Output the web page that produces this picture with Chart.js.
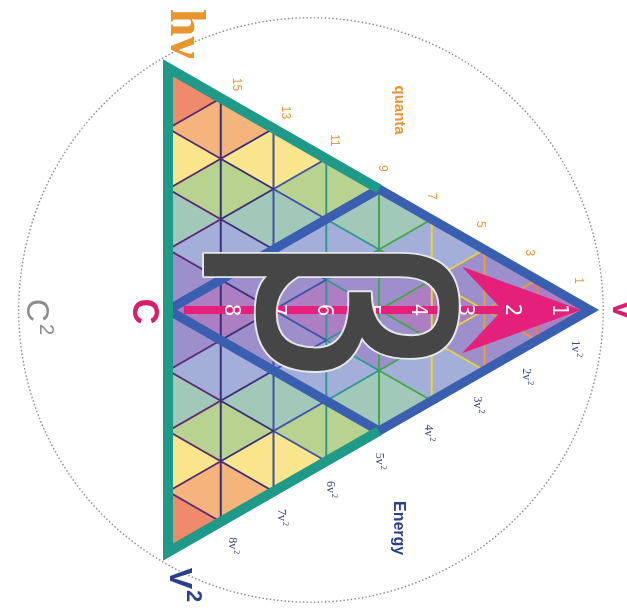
<!DOCTYPE html>
<html>
<head>
<meta charset="utf-8">
<script src="https://cdn.jsdelivr.net/npm/chart.js@4.4.0/dist/chart.umd.min.js"></script>
<style>
html,body{margin:0;padding:0;background:#ffffff;}
#wrap{width:627px;height:608px;position:relative;}
</style>
</head>
<body>
<div id="wrap"><canvas id="c"></canvas></div>
<script>
// ---- data -------------------------------------------------------------
const N = 8;                                   // rows of the triangular lattice (tip V to edge C)
const bandColors = ['#ad7fc2','#9d8fcb','#a4afd9','#a2c8b9','#b7d38f','#f9e68c','#f5b47c','#ef8a6b']; // by |row from axis|
const lineColors = ['#5a2a72','#3b2f7a','#3f52a8','#2f9a8e','#45a848','#e8d43a','#ef9c36','#ef7f3c']; // by column
const axisNumbers = ['1','2','3','4','5','6','7','8'];
const quantaNumbers = ['1','3','5','7','9','11','13','15'];
const energyMultiples = ['1','2','3','4','5','6','7','8'];
const arrowXs = [0.3, 5.6, 6.35, 7.8];        // tail, barbs, notch, tip
const arrowSpread = 1.4;
const circleCenterX = 2.71;
const circleRadius = 5.54;

// ---- geometry built from the lattice ------------------------------------
const pt = (x, y) => ({x, y});
const datasets = [];

// cells (small triangles)
for (let c = 0; c < N; c++) {
  const h = N - c;
  for (let y = -(h - 1); y <= h - 1; y += 2) {
    const col = bandColors[Math.abs(y)];
    datasets.push({data:[pt(c,y+1),pt(c,y-1),pt(c+1,y),pt(c,y+1)], showLine:true, fill:'shape',
      backgroundColor:col, borderColor:col, borderWidth:1, pointRadius:0, order:100});
  }
  for (let y = -(h - 2); y <= h - 2; y += 2) {
    const col = bandColors[Math.abs(y)];
    datasets.push({data:[pt(c,y),pt(c+1,y+1),pt(c+1,y-1),pt(c,y)], showLine:true, fill:'shape',
      backgroundColor:col, borderColor:col, borderWidth:1, pointRadius:0, order:100});
  }
}

// lattice lines, grouped by column colour
const latticeSets = lineColors.map(() => []);
for (let c = 0; c < N; c++) {
  const h = N - c;
  if (c > 0) latticeSets[c].push(pt(c,-h), pt(c,h), pt(c,null));
  for (let y = -h; y <= h; y += 2) {
    if (Math.abs(y + 1) <= h - 1) latticeSets[c].push(pt(c,y), pt(c+1,y+1), pt(c+1,null));
    if (Math.abs(y - 1) <= h - 1) latticeSets[c].push(pt(c,y), pt(c+1,y-1), pt(c+1,null));
  }
}
latticeSets.forEach((d, i) => datasets.push({data:d, showLine:true, fill:false, spanGaps:false,
  borderColor:lineColors[i], borderWidth:2, pointRadius:0, order:50}));

// rhombus (blue) and outer frame (teal)
const H = N / 2;
datasets.push({data:[pt(0,0),pt(H,H),pt(N,0),pt(H,-H),pt(0,0)], showLine:true, fill:false,
  borderColor:'#3a5fb0', borderWidth:9, borderJoinStyle:'miter', pointRadius:0, order:21});
datasets.push({data:[pt(H,H),pt(0,N),pt(0,-N),pt(H,-H)], showLine:true, fill:false,
  borderColor:'#1f9a89', borderWidth:10, borderJoinStyle:'miter', pointRadius:0, order:20});

// magenta arrow
datasets.push({data:[pt(arrowXs[0],0),pt(arrowXs[3]-0.3,0)], showLine:true, fill:false,
  borderColor:'#e5207a', borderWidth:8, pointRadius:0, order:11});
datasets.push({data:[pt(arrowXs[3],0),pt(arrowXs[1],arrowSpread),pt(arrowXs[2],0),pt(arrowXs[1],-arrowSpread),pt(arrowXs[3],0)],
  showLine:true, fill:'shape', backgroundColor:'#e5207a', borderColor:'#e5207a', borderWidth:1, pointRadius:0, order:10});

// ---- text helpers -------------------------------------------------------
function label(ctx, px, py, base, sup, o) {
  ctx.save();
  ctx.translate(px, py);
  ctx.rotate(Math.PI / 2);
  ctx.fillStyle = o.color;
  ctx.textBaseline = o.baseline || 'middle';
  ctx.textAlign = 'left';
  ctx.font = o.font;
  const wb = ctx.measureText(base).width;
  let ws = 0;
  if (sup) { ctx.font = o.supFont; ws = ctx.measureText(sup).width + (o.gap || 0); }
  const x0 = -(wb + ws) / 2;
  ctx.font = o.font;
  ctx.fillText(base, x0, 0);
  if (sup) { ctx.font = o.supFont; ctx.fillText(sup, x0 + wb + (o.gap || 0), -o.raise); }
  ctx.restore();
}

const decor = {
  id: 'decor',
  beforeDatasetsDraw(chart) {
    const {ctx, scales:{x, y}} = chart;
    const cx = x.getPixelForValue(circleCenterX), cy = y.getPixelForValue(0);
    const r = x.getPixelForValue(circleCenterX + circleRadius) - cx;
    ctx.save();
    ctx.strokeStyle = '#8a8a8a';
    ctx.lineWidth = 1.6;
    ctx.lineCap = 'round';
    ctx.setLineDash([0.1, 3.6]);
    ctx.beginPath(); ctx.arc(cx, cy, r, 0, Math.PI * 2); ctx.stroke();
    ctx.restore();
  },
  afterDatasetsDraw(chart) {
    const {ctx, scales:{x, y}} = chart;
    const P = (a, b) => [x.getPixelForValue(a), y.getPixelForValue(b)];

    // numbers on the arrow shaft
    axisNumbers.forEach((t, i) => {
      const [px, py] = P(8.3 - 0.89 * (i + 1), 0);
      label(ctx, px, py, t, null, {font:'22px "DejaVu Sans Condensed","DejaVu Sans"', color:'#ffffff'});
    });

    // big beta
    ctx.save();
    ctx.font = '200px "DejaVu Sans"';
    const m = ctx.measureText('β');
    const L = m.actualBoundingBoxLeft, R = m.actualBoundingBoxRight;
    const A = m.actualBoundingBoxAscent, D = m.actualBoundingBoxDescent;
    const [bx, by] = P(3.09, -0.08);
    ctx.translate(bx, by);
    ctx.rotate(Math.PI / 2);
    ctx.scale(119 / (L + R), 255 / (A + D));
    ctx.textAlign = 'left'; ctx.textBaseline = 'alphabetic';
    const ox = -(R - L) / 2, oy = (A - D) / 2;
    ctx.lineJoin = 'round';
    ctx.strokeStyle = 'rgba(235,235,235,0.95)';
    ctx.lineWidth = 3;
    ctx.strokeText('β', ox, oy);
    ctx.fillStyle = '#464646';
    ctx.fillText('β', ox, oy);
    ctx.restore();

    // quanta numbers along the upper edge
    quantaNumbers.forEach((t, i) => {
      const qx = 8.70 - 0.926 * (i + 1);
      const [px, py] = P(qx, 8.75 - qx);
      label(ctx, px, py, t, null, {font:'12px "Liberation Sans"', color:'#ea9a3e'});
    });
    // energy labels along the lower edge
    energyMultiples.forEach((t, i) => {
      const ex = 8.65 - 0.93 * (i + 1);
      const [px, py] = P(ex, ex - 9.0);
      label(ctx, px, py, t + 'v', '2', {font:'12px "Liberation Serif"', supFont:'8px "Liberation Serif"', raise:4, gap:1, color:'#3d4a80'});
    });

    // titles
    let p;
    p = P(4.38, 6.61); label(ctx, p[0], p[1], 'quanta', null, {font:'bold 15px "Liberation Sans"', color:'#ea9230'});
    p = P(4.36, -7.21); label(ctx, p[0], p[1], 'Energy', null, {font:'bold 16px "Liberation Sans Narrow","Liberation Sans"', color:'#2b3f8f'});
    p = P(0.06, 9.13); label(ctx, p[0], p[1], 'hν', null, {font:'bold 50px "Liberation Serif"', color:'#e8952e', baseline:'alphabetic'});
    p = P(-0.66, -0.05); label(ctx, p[0], p[1], 'C', null, {font:'bold 36px "Liberation Sans"', color:'#d81e6c', baseline:'alphabetic'});
    p = P(-2.67, -0.23); label(ctx, p[0], p[1], 'C', '2', {font:'32px "Liberation Sans"', supFont:'20px "Liberation Sans"', raise:13, gap:2, color:'#8c8c8c', baseline:'alphabetic'});
    p = P(8.44, 0); label(ctx, p[0], p[1], 'V', null, {font:'bold 32px "Liberation Sans"', color:'#d81e6c', baseline:'alphabetic'});
    p = P(0.04, -9.09); label(ctx, p[0], p[1], 'V', '2', {font:'bold 32px "Liberation Sans"', supFont:'bold 22px "Liberation Sans"', raise:17, gap:1, color:'#2b3f8f', baseline:'alphabetic'});
  }
};

new Chart(document.getElementById('c'), {
  type: 'scatter',
  data: {datasets},
  options: {
    responsive: true,
    maintainAspectRatio: false,
    devicePixelRatio: 1,
    animation: false,
    events: [],
    layout: {padding: 0},
    plugins: {legend: {display:false}, tooltip: {enabled:false}},
    scales: {
      x: {type:'linear', display:false, min:(0 - 168) / 52.75, max:(627 - 168) / 52.75},
      y: {type:'linear', display:false, min:(310 - 608) / 30.25, max:310 / 30.25}
    }
  },
  plugins: [decor]
});
</script>
</body>
</html>
